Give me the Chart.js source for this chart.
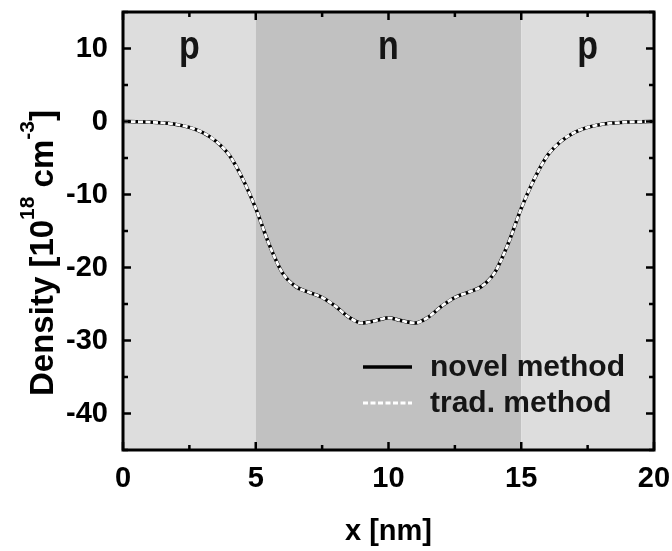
<!DOCTYPE html>
<html>
<head>
<meta charset="utf-8">
<script src="https://cdn.jsdelivr.net/npm/chart.js@4.4.1/dist/chart.umd.min.js"></script>
<style>
  html, body { margin: 0; padding: 0; background: #fff; }
</style>
</head>
<body>
<canvas id="densityChart" width="672" height="551"></canvas>
<script>
// ---- data ----
const xValues = [
    0, 0.5, 1, 1.5, 2, 2.5, 3, 3.5, 4, 4.5,
    5, 5.5, 6, 6.5, 7, 7.5, 8, 8.5, 9, 9.5,
    10, 10.5, 11, 11.5, 12, 12.5, 13, 13.5, 14, 14.5,
    15, 15.5, 16, 16.5, 17, 17.5, 18, 18.5, 19, 19.5, 20
];
const novelMethod = [
    0, -0.03, -0.08, -0.2, -0.4, -0.8, -1.5, -2.7, -4.6, -7.8,
    -11.9, -16.8, -20.7, -22.6, -23.4, -24.1, -25.3, -26.8, -27.6, -27.3,
    -26.9, -27.3, -27.6, -26.8, -25.3, -24.1, -23.4, -22.6, -20.7, -16.8,
    -11.9, -7.8, -4.6, -2.7, -1.5, -0.8, -0.4, -0.2, -0.08, -0.03, 0
];
const tradMethod = [
    0, -0.03, -0.08, -0.2, -0.4, -0.8, -1.5, -2.7, -4.6, -7.8,
    -11.9, -16.8, -20.7, -22.6, -23.4, -24.1, -25.3, -26.8, -27.6, -27.3,
    -26.9, -27.3, -27.6, -26.8, -25.3, -24.1, -23.4, -22.6, -20.7, -16.8,
    -11.9, -7.8, -4.6, -2.7, -1.5, -0.8, -0.4, -0.2, -0.08, -0.03, 0
];
const seriesLabels = ['novel method', 'trad. method'];
const regionEdges = [0, 5, 15, 20];
const regionLabels = ['p', 'n', 'p'];
const xTicks = [0, 5, 10, 15, 20];
const yTicks = [-40, -30, -20, -10, 0, 10];

// ---- styles ----
const FONT = '"Liberation Sans", Arial, Helvetica, sans-serif';
const regionColors = ['#dddddd', '#c1c1c1', '#dddddd'];

const toPoints = (ys) => ys.map((y, i) => ({ x: xValues[i], y: y }));

// shaded p / n / p regions behind the curves
const regionShading = {
    id: 'regionShading',
    beforeDatasetsDraw(chart) {
        const { ctx, chartArea: a, scales: { x } } = chart;
        ctx.save();
        for (let i = 0; i < regionLabels.length; i++) {
            const l = x.getPixelForValue(regionEdges[i]);
            const r = x.getPixelForValue(regionEdges[i + 1]);
            ctx.fillStyle = regionColors[i];
            ctx.fillRect(l, a.top, r - l, a.bottom - a.top);
        }
        // labels are a bit tall in the original, so stretch them a little
        ctx.fillStyle = '#151515';
        ctx.font = 'bold 34px ' + FONT;
        ctx.textAlign = 'center';
        ctx.textBaseline = 'alphabetic';
        for (let i = 0; i < regionLabels.length; i++) {
            const mid = (x.getPixelForValue(regionEdges[i]) + x.getPixelForValue(regionEdges[i + 1])) / 2;
            ctx.save();
            ctx.translate(mid, a.top + 47);
            ctx.scale(1, 1.2);
            ctx.fillText(regionLabels[i], 0, 0);
            ctx.restore();
        }
        ctx.restore();
    }
};

// box frame with inward ticks on all four sides
const frameTicks = {
    id: 'frameTicks',
    afterDatasetsDraw(chart) {
        const { ctx, chartArea: a, scales: { x, y } } = chart;
        ctx.save();
        ctx.strokeStyle = '#000';
        ctx.lineWidth = 2.5;
        ctx.beginPath();
        for (let v = x.min; v <= x.max; v += 2.5) {
            const px = x.getPixelForValue(v);
            const len = v % 5 === 0 ? 8 : 5;
            ctx.moveTo(px, a.bottom); ctx.lineTo(px, a.bottom - len);
            ctx.moveTo(px, a.top); ctx.lineTo(px, a.top + len);
        }
        for (let v = y.min; v <= y.max; v += 5) {
            const py = y.getPixelForValue(v);
            const len = v % 10 === 0 ? 8 : 5;
            ctx.moveTo(a.left, py); ctx.lineTo(a.left + len, py);
            ctx.moveTo(a.right, py); ctx.lineTo(a.right - len, py);
        }
        ctx.stroke();
        ctx.lineWidth = 3;
        ctx.strokeRect(a.left, a.top, a.right - a.left, a.bottom - a.top);
        ctx.restore();
    }
};

// legend drawn inside the plot, bottom right
const insideLegend = {
    id: 'insideLegend',
    afterDraw(chart) {
        const { ctx, chartArea: a } = chart;
        ctx.save();
        chart.data.datasets.forEach((ds, i) => {
            const yy = a.top + 355 + i * 36;
            ctx.strokeStyle = ds.borderColor;
            ctx.lineWidth = ds.borderWidth;
            ctx.setLineDash(ds.borderDash || []);
            ctx.beginPath();
            ctx.moveTo(a.left + 240, yy);
            ctx.lineTo(a.left + 289, yy);
            ctx.stroke();
            ctx.setLineDash([]);
            ctx.fillStyle = '#151515';
            ctx.font = 'bold 30px ' + FONT;
            ctx.textAlign = 'left';
            ctx.textBaseline = 'middle';
            ctx.fillText(ds.label, a.left + 307, yy + 1);
        });
        ctx.restore();
    }
};

// y title with superscripts
const yTitle = {
    id: 'yTitle',
    afterDraw(chart) {
        const { ctx } = chart;
        const parts = [
            { t: 'Density [10', sup: false },
            { t: '18', sup: true },
            { t: ' cm', sup: false },
            { t: '-3', sup: true },
            { t: ']', sup: false }
        ];
        const big = 'bold 33px ' + FONT, small = 'bold 21px ' + FONT;
        ctx.save();
        let total = 0;
        parts.forEach(p => { ctx.font = p.sup ? small : big; total += ctx.measureText(p.t).width; });
        ctx.translate(53, 253);
        ctx.rotate(-Math.PI / 2);
        ctx.fillStyle = '#000';
        ctx.textBaseline = 'alphabetic';
        ctx.textAlign = 'left';
        let cx = -total / 2;
        parts.forEach(p => {
            ctx.font = p.sup ? small : big;
            ctx.fillText(p.t, cx, p.sup ? -19 : 0);
            cx += ctx.measureText(p.t).width;
        });
        ctx.restore();
    }
};

const tickFont = { family: FONT, size: 29, weight: 'bold' };

new Chart(document.getElementById('densityChart'), {
    type: 'line',
    data: {
        datasets: [
            {
                label: seriesLabels[0],
                data: toPoints(novelMethod),
                borderColor: '#000000',
                borderWidth: 3.5,
                pointRadius: 0,
                order: 2,
                cubicInterpolationMode: 'monotone'
            },
            {
                label: seriesLabels[1],
                data: toPoints(tradMethod),
                borderColor: '#ffffff',
                borderWidth: 2.8,
                borderDash: [5, 2.5],
                pointRadius: 0,
                order: 1,
                cubicInterpolationMode: 'monotone'
            }
        ]
    },
    options: {
        responsive: false,
        animation: false,
        layout: { padding: { top: 12, right: 18, left: 0, bottom: 0 } },
        plugins: {
            legend: { display: false },
            tooltip: { enabled: false }
        },
        scales: {
            x: {
                type: 'linear',
                min: 0,
                max: 20,
                afterBuildTicks: (s) => { s.ticks = xTicks.map(v => ({ value: v })); },
                afterFit: (s) => { s.height = 101; s.paddingLeft = 0; s.paddingRight = 0; },
                grid: { display: false, drawTicks: false },
                border: { display: false },
                ticks: { font: tickFont, color: '#000', padding: 12, maxRotation: 0 },
                title: {
                    display: true,
                    text: 'x [nm]',
                    font: { family: FONT, size: 29, weight: 'bold' },
                    color: '#000',
                    padding: { top: 0, bottom: 2 }
                }
            },
            y: {
                type: 'linear',
                min: -45,
                max: 15,
                afterBuildTicks: (s) => { s.ticks = yTicks.map(v => ({ value: v })); },
                afterFit: (s) => { s.width = 123; s.paddingTop = 0; s.paddingBottom = 0; },
                grid: { display: false, drawTicks: false },
                border: { display: false },
                ticks: { font: tickFont, color: '#000', padding: 15 }
            }
        }
    },
    plugins: [regionShading, frameTicks, insideLegend, yTitle]
});
</script>
</body>
</html>
